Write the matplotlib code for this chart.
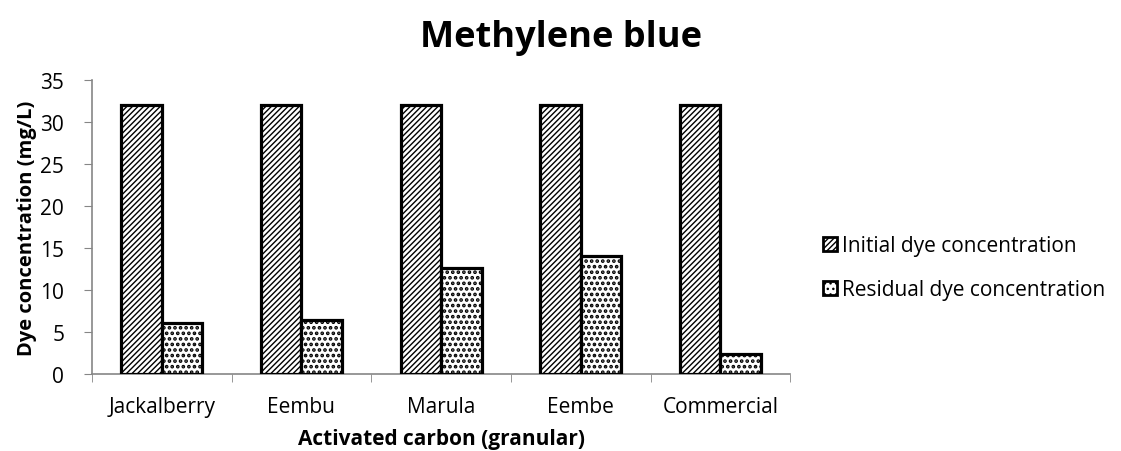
import matplotlib
matplotlib.use("Agg")
import matplotlib.pyplot as plt
import numpy as np
from matplotlib.patches import Patch

categories = ["Jackalberry", "Eembu", "Marula", "Eembe", "Commercial"]
initial = [32, 32, 32, 32, 32]
residual = [6.1, 6.5, 12.6, 14.1, 2.4]
series_names = ["Initial dye concentration", "Residual dye concentration"]

plt.rcParams['font.family'] = ['Open Sans', 'DejaVu Sans']
plt.rcParams['hatch.linewidth'] = 1.0

fig = plt.figure(figsize=(11.21, 4.52), dpi=100)
ax = fig.add_axes([0.082, 0.170, 0.623, 0.651])

x = np.arange(len(categories))
w = 0.29
ax.bar(x - w/2, initial, w, facecolor='white', edgecolor='black', linewidth=2.3,
       hatch='//////', zorder=3)
with plt.rc_context({'hatch.linewidth': 1.8}):
    bars2 = ax.bar(x + w/2, residual, w, facecolor='white', edgecolor='black',
                   linewidth=2.3, hatch='...', zorder=3)
for b in bars2:
    if hasattr(b, 'set_hatch_linewidth'):
        b.set_hatch_linewidth(1.8)

ax.set_xlim(-0.5, len(categories) - 0.5)
ax.set_ylim(0, 35)
ax.set_yticks(np.arange(0, 36, 5))
ax.set_xticks(x)
ax.set_xticklabels(categories)
ax.set_xticks(np.arange(-0.5, len(categories), 1), minor=True)
ax.tick_params(axis='x', which='major', length=0, labelsize=15, pad=16)
ax.tick_params(axis='x', which='minor', length=6, color='#868686', direction='out')
ax.tick_params(axis='y', length=6, color='#868686', labelsize=15, direction='out', pad=14)

for s in ['top', 'right']:
    ax.spines[s].set_visible(False)
for s in ['left', 'bottom']:
    ax.spines[s].set_color('#868686')
    ax.spines[s].set_linewidth(1.2)

ax.set_ylabel("Dye concentration (mg/L)", fontsize=14.5, fontweight='bold', labelpad=2)
ax.set_xlabel("Activated carbon (granular)", fontsize=15, fontweight='bold', labelpad=8)

fig.text(0.5, 0.915, "Methylene blue", ha='center', va='center', fontsize=26,
         fontweight='bold')

h1 = Patch(facecolor='white', edgecolor='black', linewidth=2, hatch='//////')
with plt.rc_context({'hatch.linewidth': 1.8}):
    h2 = Patch(facecolor='white', edgecolor='black', linewidth=2, hatch='...')
if hasattr(h2, 'set_hatch_linewidth'):
    h2.set_hatch_linewidth(1.8)
fig.legend([h1, h2], series_names, loc='center left', bbox_to_anchor=(0.717, 0.405),
           frameon=False, fontsize=15, handlelength=0.7, handleheight=0.7,
           handletextpad=0.25, labelspacing=1.1)

fig.savefig("out.png", dpi=100)
